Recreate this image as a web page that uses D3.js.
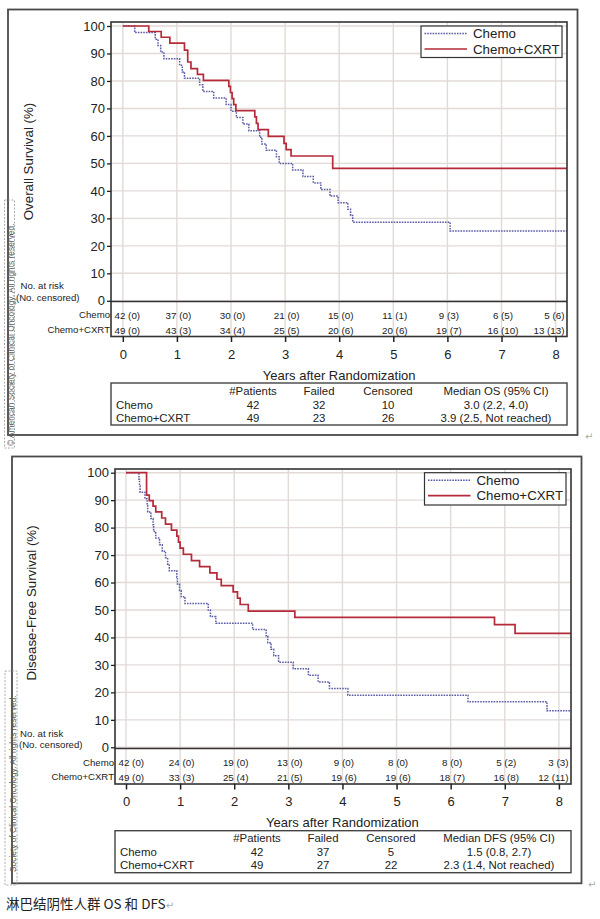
<!DOCTYPE html>
<html><head><meta charset="utf-8">
<script src="https://cdn.jsdelivr.net/npm/d3@7/dist/d3.min.js"></script>
<style>
body{margin:0;background:#fff;}
svg{display:block;font-family:"Liberation Sans",Arial,sans-serif;}
</style>
</head><body>
<svg id="c" width="600" height="919"></svg>
<script>
// ---------------- data ----------------
const years = [0,1,2,3,4,5,6,7,8];
const yTicks = [0,10,20,30,40,50,60,70,80,90,100];
const groups = ["Chemo","Chemo+CXRT"];

// Kaplan-Meier step points [year, survival %]
const osChemo = [[0,100],[0.22,97.6],[0.6,95.2],[0.65,92.9],[0.7,90.5],[0.76,88.1],[1.05,85.7],[1.1,83.3],[1.14,81.0],[1.42,78.6],[1.48,76.2],[1.68,73.8],[1.91,71.4],[2.0,69.0],[2.1,66.7],[2.22,64.3],[2.33,61.9],[2.53,59.5],[2.57,57.1],[2.65,54.8],[2.84,52.4],[2.89,50.0],[3.14,47.6],[3.33,45.2],[3.52,42.9],[3.66,40.5],[3.83,38.1],[3.98,35.7],[4.16,33.3],[4.21,31.0],[4.25,28.6],[6.05,25.4]];
const osCxrt = [[0,100],[0.48,98.0],[0.71,95.9],[0.87,93.8],[1.14,91.2],[1.2,86.9],[1.26,84.5],[1.38,82.4],[1.49,80.2],[1.96,78.0],[1.99,75.8],[2.02,73.6],[2.05,71.4],[2.09,69.2],[2.44,66.9],[2.47,64.6],[2.5,62.3],[2.69,59.8],[2.98,57.3],[3.02,55.0],[3.11,52.7],[3.88,48.2]];
const dfsChemo = [[0,100],[0.24,97.6],[0.25,95.2],[0.26,92.9],[0.35,90.5],[0.39,88.1],[0.4,85.7],[0.46,83.3],[0.5,81.0],[0.51,78.6],[0.55,76.2],[0.62,73.8],[0.67,71.4],[0.73,69.0],[0.77,66.7],[0.8,64.3],[0.94,61.9],[0.95,59.5],[0.99,57.1],[1.02,54.8],[1.09,52.4],[1.52,50.0],[1.56,47.6],[1.66,45.2],[2.34,42.9],[2.59,40.5],[2.62,38.1],[2.68,35.7],[2.73,33.3],[2.82,31.0],[3.09,28.6],[3.37,26.2],[3.55,23.8],[3.76,21.4],[4.1,19.0],[6.32,16.6],[7.78,13.3]];
const dfsCxrt = [[0,100],[0.38,91.8],[0.43,89.8],[0.5,87.8],[0.55,85.7],[0.66,83.5],[0.73,81.3],[0.84,79.1],[0.94,76.9],[0.97,74.7],[1.0,72.5],[1.06,70.3],[1.21,68.0],[1.36,65.8],[1.55,63.5],[1.68,61.2],[1.76,58.9],[1.98,56.6],[2.06,54.3],[2.11,52.0],[2.26,49.6],[3.12,47.3],[6.81,44.7],[7.19,41.5]];

// number at risk (number censored)
const osRiskChemo = ["42 (0)","37 (0)","30 (0)","21 (0)","15 (0)","11 (1)","9 (3)","6 (5)","5 (6)"];
const osRiskCxrt  = ["49 (0)","43 (3)","34 (4)","25 (5)","20 (6)","20 (6)","19 (7)","16 (10)","13 (13)"];
const dfsRiskChemo = ["42 (0)","24 (0)","19 (0)","13 (0)","9 (0)","8 (0)","8 (0)","5 (2)","3 (3)"];
const dfsRiskCxrt  = ["49 (0)","33 (3)","25 (4)","21 (5)","19 (6)","19 (6)","18 (7)","16 (8)","12 (11)"];

// summary tables
const statsHeader = ["#Patients","Failed","Censored"];
const osStats  = [["Chemo","42","32","10","3.0 (2.2, 4.0)"],["Chemo+CXRT","49","23","26","3.9 (2.5, Not reached)"]];
const dfsStats = [["Chemo","42","37","5","1.5 (0.8, 2.7)"],["Chemo+CXRT","49","27","22","2.3 (1.4, Not reached)"]];

const caption = "淋巴结阴性人群 OS 和 DFS";

// ---------------- drawing ----------------
const svg = d3.select("#c");
const RED = "#b52a38", BLUE = "#5a5ca6", GRID = "#e2dad7", INK = "#222";

function panel(p){
  const g = svg.append("g");
  const x = d3.scaleLinear().domain([0,8]).range([p.x0, p.x8]);
  const y = d3.scaleLinear().domain([0,100]).range([p.y0, p.y100]);
  const xMax = x.invert(p.fx1);

  // outer box
  g.append("rect").attr("x",p.ox0).attr("y",p.oy0).attr("width",p.ox1-p.ox0).attr("height",p.oy1-p.oy0)
    .attr("fill","none").attr("stroke","#4a4a4a").attr("stroke-width",1.8);

  // grid
  g.append("g").selectAll("line").data(yTicks).join("line")
    .attr("x1",p.fx0).attr("x2",p.fx1).attr("y1",d=>y(d)).attr("y2",d=>y(d))
    .attr("stroke",GRID).attr("stroke-width",1.4);
  g.append("g").selectAll("line").data(years).join("line")
    .attr("x1",d=>x(d)).attr("x2",d=>x(d)).attr("y1",p.fy0).attr("y2",p.riskBottom)
    .attr("stroke",GRID).attr("stroke-width",1.4);

  // curves
  const line = d3.line().x(d=>x(d[0])).y(d=>y(d[1])).curve(d3.curveStepAfter);
  const ext = s => s.concat([[xMax, s[s.length-1][1]]]);
  g.append("path").datum(ext(p.chemo)).attr("d",line).attr("fill","none")
    .attr("stroke",BLUE).attr("stroke-width",1.5).attr("stroke-dasharray","1.6,1.1");
  g.append("path").datum(ext(p.cxrt)).attr("d",line).attr("fill","none")
    .attr("stroke",RED).attr("stroke-width",1.7);

  // frame
  g.append("rect").attr("x",p.fx0).attr("y",p.fy0).attr("width",p.fx1-p.fx0).attr("height",p.riskBottom-p.fy0)
    .attr("fill","none").attr("stroke","#333").attr("stroke-width",1.6);
  g.append("line").attr("x1",p.fx0).attr("x2",p.fx1).attr("y1",p.axisY).attr("y2",p.axisY)
    .attr("stroke","#333").attr("stroke-width",1.6);

  // y axis
  const gy = g.append("g").attr("transform",`translate(${p.fx0},0)`)
    .call(d3.axisLeft(y).tickValues(yTicks).tickSize(4).tickPadding(2));
  gy.select(".domain").remove();
  gy.selectAll("line").attr("stroke",INK).attr("stroke-width",1.3);
  gy.selectAll("text").attr("font-size",13).attr("fill",INK).attr("font-family","Liberation Sans, Arial, sans-serif");

  // x axis
  const gx = g.append("g").attr("transform",`translate(0,${p.riskBottom})`)
    .call(d3.axisBottom(x).tickValues(years).tickSize(5.5));
  gx.select(".domain").remove();
  gx.selectAll("line").attr("stroke",INK).attr("stroke-width",1.5);
  gx.selectAll("text").attr("y",17.5).attr("dy","0.36em").attr("font-size",13).attr("fill",INK)
    .attr("font-family","Liberation Sans, Arial, sans-serif");

  // y title
  g.append("text").attr("transform",`translate(${p.yTitleX},${p.yTitleY}) rotate(-90)`)
    .attr("text-anchor","middle").attr("dy","0.36em").attr("font-size",13.3).attr("fill",INK).text(p.yTitle);

  // x title
  g.append("text").attr("x",(x(0)+x(8))/2).attr("y",p.xTitleY).attr("dy","0.36em")
    .attr("text-anchor","middle").attr("font-size",13).attr("fill",INK).text("Years after Randomization");

  // legend
  g.append("rect").attr("x",p.lg[0]).attr("y",p.lg[1]).attr("width",p.lg[2]-p.lg[0]).attr("height",p.lg[3]-p.lg[1])
    .attr("fill","#fff").attr("stroke","#333").attr("stroke-width",1.2);
  const lrows = [p.lg[1]+7.5, p.lg[1]+23];
  const lstyle = [{c:BLUE,d:"1.6,1.1",w:1.5},{c:RED,d:null,w:1.7}];
  groups.forEach((nm,i)=>{
    g.append("line").attr("x1",p.lg[0]+3.5).attr("x2",p.lg[0]+46).attr("y1",lrows[i]).attr("y2",lrows[i])
      .attr("stroke",lstyle[i].c).attr("stroke-width",lstyle[i].w).attr("stroke-dasharray",lstyle[i].d);
    g.append("text").attr("x",p.lg[0]+52).attr("y",lrows[i]).attr("dy","0.36em")
      .attr("font-size",13.3).attr("fill",INK).text(nm);
  });

  // risk labels
  g.append("text").attr("x",p.nx).attr("y",p.nary).attr("dy","0.36em").attr("font-size",9.6).attr("fill",INK).text("No. at risk");
  g.append("text").attr("x",p.nx2).attr("y",p.ncy).attr("dy","0.36em").attr("font-size",9.6).attr("fill",INK).text("(No. censored)");
  const riskRows = [p.rowY[0], p.rowY[1]];
  [p.riskChemo, p.riskCxrt].forEach((arr,ri)=>{
    g.append("text").attr("x",p.fx0-1).attr("y",riskRows[ri]).attr("dy","0.36em").attr("text-anchor","end")
      .attr("font-size",9.6).attr("fill",INK).text(groups[ri]);
    arr.forEach((s,i)=>{
      const t = g.append("text").attr("y",riskRows[ri]).attr("dy","0.36em").attr("font-size",9.8).attr("fill",INK).text(s);
      const w = t.node().getComputedTextLength();
      let cx = x(years[i]) + 1.5;
      let left = cx - w/2;
      left = Math.max(left, p.fx0 + 3.5);
      left = Math.min(left, p.fx1 - 2.5 - w);
      t.attr("x",left);
    });
  });

  // stats table
  g.append("rect").attr("x",p.fx0).attr("y",p.st[0]).attr("width",p.fx1-p.fx0).attr("height",p.st[1]-p.st[0])
    .attr("fill","none").attr("stroke","#444").attr("stroke-width",1.4);
  const hdr = statsHeader.concat([p.medianLabel]);
  hdr.forEach((h,j)=>{
    g.append("text").attr("x",p.cols[j]).attr("y",p.srow[0]).attr("dy","0.36em").attr("text-anchor","middle")
      .attr("font-size",11.4).attr("fill",INK).text(h);
  });
  p.stats.forEach((r,i)=>{
    g.append("text").attr("x",p.labX).attr("y",p.srow[i+1]).attr("dy","0.36em")
      .attr("font-size",11.4).attr("fill",INK).text(r[0]);
    r.slice(1).forEach((v,j)=>{
      g.append("text").attr("x",p.cols[j]).attr("y",p.srow[i+1]).attr("dy","0.36em").attr("text-anchor","middle")
        .attr("font-size",11.4).attr("fill",INK).text(v);
    });
  });

  // copyright watermark
  g.append("rect").attr("x",p.cp.x0).attr("y",p.cp.y0).attr("width",p.cp.x1-p.cp.x0).attr("height",p.cp.y1-p.cp.y0)
    .attr("fill","none").attr("stroke","#999").attr("stroke-width",0.8).attr("stroke-dasharray","2,1.5");
  g.append("text").attr("transform",`translate(${p.cp.tx},${p.cp.ty}) rotate(-90)`)
    .attr("font-size",8.4).attr("fill","#5a5a5a").text(p.cp.text);

  // paragraph mark
  g.append("text").attr("x",p.retX).attr("y",p.retY).attr("dy","0.36em").attr("font-size",10)
    .attr("font-family","DejaVu Sans").attr("fill","#aaa").text("\u21B5");
}

panel({
  x0:122.8, x8:555.6, y0:300.8, y100:26,
  fx0:111, fx1:567, fy0:22, axisY:301.5, riskBottom:336.5,
  ox0:8, oy0:9.5, ox1:577.5, oy1:435,
  chemo:osChemo, cxrt:osCxrt,
  yTitle:"Overall Survival (%)", yTitleX:28, yTitleY:161.5, xTitleY:375,
  lg:[421,26,562,57.5],
  nx:20.5, nary:286, nx2:16, ncy:297.5,
  rowY:[315,330], riskChemo:osRiskChemo, riskCxrt:osRiskCxrt,
  st:[383,425], srow:[391,404.7,417.7], cols:[253,319,388,496], labX:116,
  medianLabel:"Median OS (95% CI)", stats:osStats,
  cp:{x0:4.5,y0:200,x1:14.5,y1:448,tx:13.5,ty:446,text:"\u00A9 American Society of Clinical Oncology. All rights reserved."},
  retX:585, retY:436
});

panel({
  x0:126, x8:558.9, y0:747.3, y100:472.7,
  fx0:115, fx1:571, fy0:469, axisY:748.5, riskBottom:784,
  ox0:12, oy0:456.5, ox1:581.5, oy1:883.3,
  chemo:dfsChemo, cxrt:dfsCxrt,
  yTitle:"Disease-Free Survival (%)", yTitleX:31.5, yTitleY:603, xTitleY:822.3,
  lg:[424.5,472.7,566,505],
  nx:20, nary:733.3, nx2:19, ncy:745,
  rowY:[762.3,777], riskChemo:dfsRiskChemo, riskCxrt:dfsRiskCxrt,
  st:[830.7,872.7], srow:[838.3,851.7,865.3], cols:[257,323,391,499], labX:120,
  medianLabel:"Median DFS (95% CI)", stats:dfsStats,
  cp:{x0:5,y0:671,x1:17,y1:885,tx:15.5,ty:872,text:"Society of Clinical Oncology. All rights reserved."},
  retX:588, retY:884
});

// caption
const cap = svg.append("text").attr("x",6).attr("y",904).attr("dy","0.36em")
  .attr("font-family","'Noto Sans CJK SC', sans-serif").attr("font-size",13.5).attr("fill","#222");
cap.append("tspan").text(caption);
cap.append("tspan").attr("fill","#aaa").attr("font-size",10).attr("font-family","DejaVu Sans").text("\u21B5");
</script>
</body></html>
